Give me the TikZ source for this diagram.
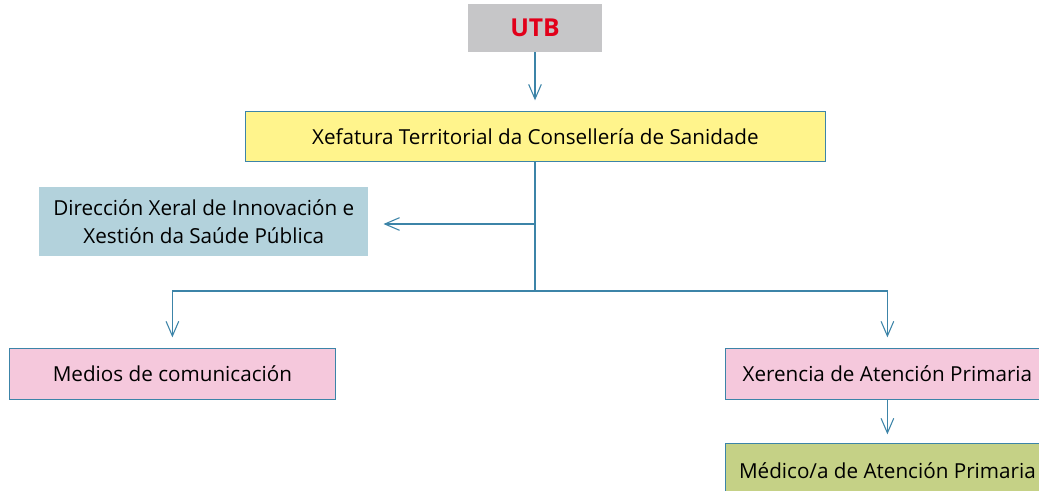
\documentclass[tikz,border=0pt]{standalone}
\usepackage{fontspec}
\setmainfont{Open Sans}
\usetikzlibrary{arrows.meta}
\definecolor{utbgray}{HTML}{C6C6C8}
\definecolor{utbred}{HTML}{E2001A}
\definecolor{xyellow}{HTML}{FFF48C}
\definecolor{dblue}{HTML}{B3D2DC}
\definecolor{mpink}{HTML}{F5C8DC}
\definecolor{mgreen}{HTML}{C5D186}
\definecolor{lblue}{HTML}{3C84A8}
\tikzset{
  px/.style={x=0.75pt,y=-0.75pt},
  lbl/.style={font=\fontsize{15.5}{21}\selectfont},
  boxx/.style={draw=lblue,line width=0.6pt,inner sep=0pt,anchor=north west},
  conn/.style={draw=lblue,line width=0.9pt},
  arr/.style={conn,-{Straight Barb[length=11pt,width=9.5pt,line width=0.8pt]}}
}
\begin{document}
\begin{tikzpicture}[px]
\useasboundingbox (0,0) rectangle (1039,490);
\clip (0,0) rectangle (1039,490);
\fill[white] (0,0) rectangle (1039,490);
\node[fill=utbgray,minimum width=134*0.75pt,minimum height=48*0.75pt,inner sep=0pt,text=utbred,font=\fontsize{18.5}{21}\selectfont\bfseries] (utb) at (535,28) {UTB};
\node[boxx,fill=xyellow,minimum width=580*0.75pt,minimum height=50*0.75pt] (xef) at (245,111) {};
\node[lbl] at (xef.center) {Xefatura Territorial da Consellería de Sanidade};
\node[fill=dblue,minimum width=329*0.75pt,minimum height=69*0.75pt,inner sep=0pt,anchor=north west,align=center,lbl] (dir) at (39,187) {Dirección Xeral de Innovación e\\Xestión da Saúde Pública};
\node[boxx,fill=mpink,minimum width=326*0.75pt,minimum height=51*0.75pt] (med) at (9,348) {};
\node[lbl] at (med.center) {Medios de comunicación};
\node[boxx,fill=mpink,minimum width=324*0.75pt,minimum height=51*0.75pt] (xer) at (725,348) {};
\node[lbl] at (xer.center) {Xerencia de Atención Primaria};
\node[boxx,fill=mgreen,minimum width=324*0.75pt,minimum height=52*0.75pt] (mad) at (725,443) {};
\node[lbl] at ([yshift=-1pt]mad.center) {Médico/a de Atención Primaria};
\coordinate (j1) at (535,224);
\coordinate (j2) at (535,291);
\draw[arr] (utb.south) -- ([yshift=8pt]xef.north -| utb.south);
\draw[conn] (xef.south -| j1) -- (j2);
\draw[arr] (j1) -- ([xshift=15*0.75pt]dir.east |- j1);
\draw[arr] (j2) -| ([yshift=8pt]med.north);
\draw[arr] (j2) -| ([yshift=8pt]xer.north);
\draw[arr] (xer.south) -- ([yshift=6.5pt]mad.north);
\end{tikzpicture}
\end{document}
